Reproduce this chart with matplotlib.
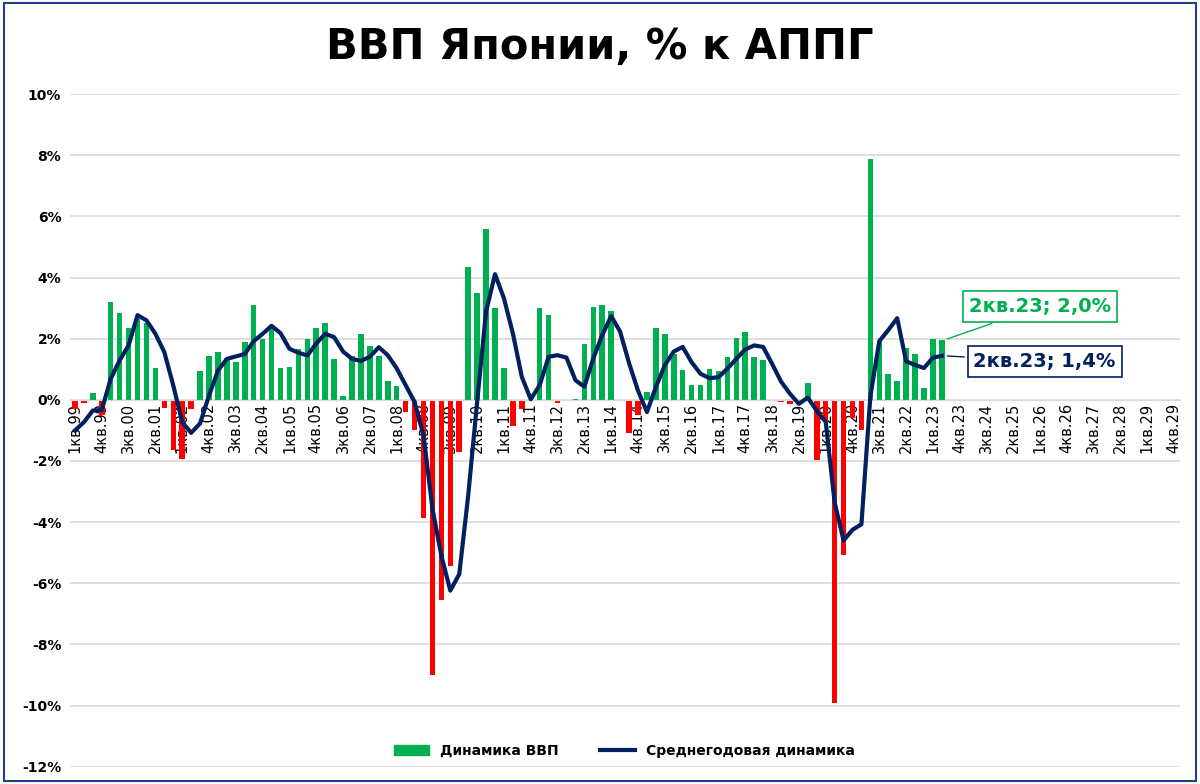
import matplotlib
matplotlib.use("Agg")
import matplotlib.pyplot as plt
from matplotlib.patches import Rectangle, Patch
from matplotlib.lines import Line2D
import numpy as np

years = list(range(1999, 2030))
labels_all = [f"{q}кв.{y % 100:02d}" for y in years for q in range(1, 5)]

gdp = [-0.3, -0.1, 0.22, -0.5, 3.2, 2.85, 2.35, 2.65, 2.5, 1.05, -0.26, -1.65, -1.95, -0.3,
       0.93, 1.42, 1.55, 1.37, 1.24, 1.9, 3.1, 2.0, 2.44, 1.04, 1.07, 1.65, 2.0, 2.36, 2.5,
       1.34, 0.12, 1.45, 2.15, 1.75, 1.45, 0.6, 0.45, -0.4, -1.0, -3.85, -9.0, -6.55, -5.45,
       -1.7, 4.35, 3.5, 5.6, 3.0, 1.05, -0.85, -0.3, 0.0, 3.0, 2.78, -0.1, -0.05, 0.02, 1.84,
       3.05, 3.1, 2.9, -0.05, -1.08, -0.5, 0.25, 2.35, 2.14, 1.5, 0.96, 0.47, 0.49, 1.0, 0.95,
       1.41, 2.03, 2.22, 1.39, 1.31, 0.0, -0.08, -0.15, 0.0, 0.56, -1.98, -0.7, -9.9, -5.07,
       -0.6, -1.0, 7.88, 1.94, 0.84, 0.6, 1.68, 1.49, 0.4, 1.98, 1.96]

avg = [-1.0, -0.73, -0.35, -0.33, 0.69, 1.29, 1.78, 2.77, 2.6, 2.16, 1.56, 0.47, -0.73, -1.08,
       -0.77, 0.14, 0.96, 1.34, 1.42, 1.5, 1.92, 2.16, 2.42, 2.18, 1.67, 1.54, 1.45, 1.84, 2.16,
       2.05, 1.58, 1.34, 1.27, 1.41, 1.72, 1.46, 1.03, 0.48, -0.07, -1.16, -3.56, -5.1, -6.24,
       -5.7, -3.13, -0.07, 2.89, 4.11, 3.32, 2.17, 0.75, 0.02, 0.48, 1.41, 1.46, 1.38, 0.64,
       0.43, 1.36, 2.12, 2.74, 2.23, 1.2, 0.3, -0.4, 0.42, 1.13, 1.58, 1.73, 1.23, 0.85, 0.71,
       0.74, 1.02, 1.34, 1.65, 1.78, 1.73, 1.18, 0.6, 0.2, -0.13, 0.07, -0.36, -0.72, -3.35,
       -4.6, -4.25, -4.07, 0.12, 1.92, 2.28, 2.67, 1.26, 1.14, 1.04, 1.38, 1.44]

GREEN = "#00B050"
RED = "#FF0000"
NAVY = "#002060"

fig = plt.figure(figsize=(12, 7.84), dpi=100)
fig.patches.append(Rectangle((0.003, 0.004), 0.994, 0.992, transform=fig.transFigure,
                             fill=False, edgecolor="#1F3F8F", lw=1.5))
ax = fig.add_axes([0.058, 0.022, 0.925, 0.858])

x = np.arange(len(gdp))
colors = [GREEN if v >= 0 else RED for v in gdp]
ax.bar(x, gdp, width=0.62, color=colors, zorder=2)
ax.plot(np.arange(len(avg)), avg, color=NAVY, lw=3, zorder=3)

ax.set_xlim(-0.6, len(labels_all) - 0.4)
ax.set_ylim(-12, 10)
yt = np.arange(-12, 11, 2)
ax.set_yticks(yt)
ax.set_yticklabels([f"{v}%" for v in yt], fontsize=10, fontweight="bold")
ax.yaxis.grid(True, color="#D9D9D9", lw=1.2, zorder=0)
ax.set_axisbelow(True)
for s in ["top", "right", "left"]:
    ax.spines[s].set_visible(False)
ax.spines["bottom"].set_position(("data", 0))
ax.spines["bottom"].set_color("#D9D9D9")
ax.tick_params(axis="y", length=0, pad=6)
ticks = np.arange(0, len(labels_all), 3)
ax.set_xticks(ticks)
ax.set_xticklabels([labels_all[i] for i in ticks], rotation=90, fontsize=10.5)
ax.tick_params(axis="x", length=0, pad=2)

fig.text(0.5, 0.94, "ВВП Японии, % к АППГ", ha="center", va="center",
         fontsize=30, fontweight="bold")

def fmt(v):
    return f"{v:.1f}%".replace(".", ",")

i = len(gdp) - 1
ax.annotate(f"{labels_all[i]}; {fmt(gdp[i])}",
            xy=(i + 0.3, gdp[i]), xytext=(i + 11, 3.05), color=GREEN, fontsize=14,
            fontweight="bold", ha="center", va="center",
            bbox=dict(boxstyle="square,pad=0.3", fc="white", ec=GREEN, lw=1.2),
            arrowprops=dict(arrowstyle="-", color=GREEN, lw=1))
ax.annotate(f"{labels_all[i]}; {fmt(avg[i])}",
            xy=(i + 0.3, avg[i]), xytext=(i + 11.5, 1.25), color=NAVY, fontsize=14,
            fontweight="bold", ha="center", va="center",
            bbox=dict(boxstyle="square,pad=0.3", fc="white", ec=NAVY, lw=1.2),
            arrowprops=dict(arrowstyle="-", color=NAVY, lw=1))

handles = [Patch(color=GREEN, label="Динамика ВВП"),
           Line2D([0], [0], color=NAVY, lw=3, label="Среднегодовая динамика")]
ax.legend(handles=handles, loc="lower center", bbox_to_anchor=(0.5, -0.005), ncol=2,
          frameon=False, prop=dict(size=10, weight="bold"), handlelength=2.5,
          columnspacing=3)

fig.savefig("out.png", dpi=100)
